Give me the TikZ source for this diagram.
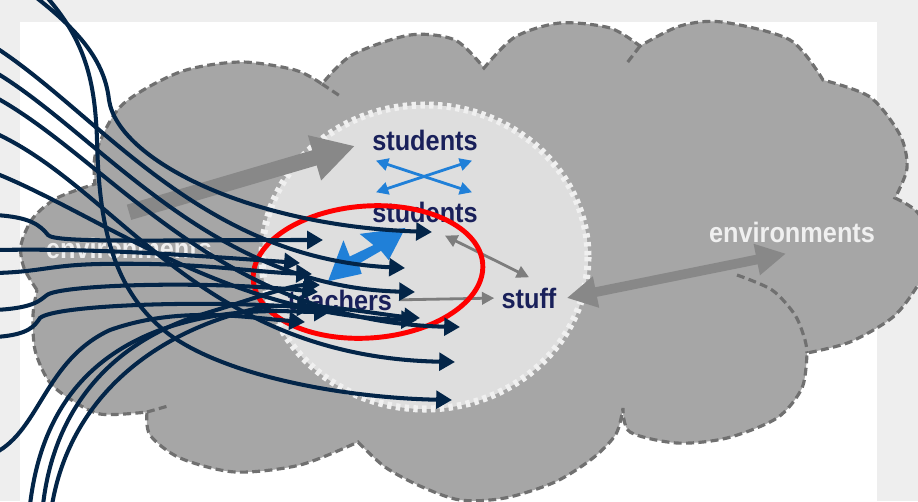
\documentclass[tikz,border=0pt]{standalone}
\usepackage{fontspec}
\setmainfont{Liberation Sans}
\newfontfamily\slidefont[FakeStretch=0.9]{Liberation Sans}
\usepackage{xcolor}
\usepackage{tikz}
\usetikzlibrary{
  arrows.meta,
  calc
}
\definecolor{framegray}{RGB}{238, 238, 238}
\definecolor{cloudgray}{RGB}{166, 166, 166}
\definecolor{clouddash}{RGB}{112, 112, 112}
\definecolor{innergray}{RGB}{222, 222, 222}
\definecolor{inneredge}{RGB}{240, 240, 240}
\definecolor{arrowgray}{RGB}{136, 136, 136}
\definecolor{thingray}{RGB}{125, 125, 125}
\definecolor{labelnavy}{RGB}{25, 32, 90}
\definecolor{linkblue}{RGB}{32, 128, 216}
\definecolor{inknavy}{RGB}{3, 37, 72}
\definecolor{ringred}{RGB}{255, 0, 0}
\tikzset{
  word/.style = {
    font=\slidefont\fontsize{16}{18}\selectfont\bfseries,
    text=labelnavy, inner sep=0pt, anchor=base
  },
  envword/.style = {word, text=white!94!black},
  cloudline/.style = {
    fill=cloudgray, draw=clouddash, line width=1.8pt,
    dash pattern=on 4.5pt off 2.5pt
  },
  seam/.style = {draw=clouddash, line width=1.8pt, dash pattern=on 4.5pt off 2.5pt},
  core/.style = {
    fill=innergray, draw=inneredge, line width=4pt,
    dash pattern=on 2.5pt off 2.5pt
  },
  bigarr/.style  = {-{Triangle[length=24pt,width=25pt]}, draw=arrowgray, line width=9pt},
  envarr/.style  = {{Triangle[length=17pt,width=17pt]}-{Triangle[length=17pt,width=17pt]},
                    draw=arrowgray, line width=5.5pt},
  thinarr/.style = {-{Triangle[length=7pt,width=7pt]}, draw=thingray, line width=1.6pt},
  thinboth/.style = {thinarr, {Triangle[length=7pt,width=7pt]}-{Triangle[length=7pt,width=7pt]}},
  bluearr/.style = {{Triangle[length=7pt,width=7pt]}-{Triangle[length=7pt,width=7pt]},
                    draw=linkblue, line width=1.6pt},
  ring/.style = {draw=ringred, line width=2.8pt},
  ink/.style  = {-{Triangle[length=9pt,width=10pt]}, draw=inknavy, line width=2.3pt},
}

\begin{document}
\begin{tikzpicture}[x=0.02cm, y=-0.02cm]

  \useasboundingbox (0,0) rectangle (918,501);
  \clip (0,0) rectangle (918,501);

  %% ── Slide frame ────────────────────────────────────────────────────────
  \fill[framegray] (0,0) rectangle (918,501);
  \fill[white] (20,22) rectangle (877,505);

  %% ── Outer cloud ────────────────────────────────────────────────────────
  \path[cloudline]
    plot[smooth] coordinates {(37,290) (24,268) (21,245) (33,218) (57,198) (95,184)}
    -- plot[smooth] coordinates {(95,184) (96,152) (122,105) (180,72) (240,62) (295,70) (322,84)}
    -- plot[smooth] coordinates {(322,84) (352,55) (410,35) (455,40) (484,68)}
    -- plot[smooth] coordinates {(484,68) (515,37) (560,23) (610,28) (640,46)}
    -- plot[smooth] coordinates {(640,46) (680,26) (722,22) (790,40) (823,80)}
    -- plot[smooth] coordinates {(823,80) (870,97) (900,135) (907,168) (895,198)}
    -- plot[smooth] coordinates {(895,198) (918,213) (935,250) (918,285) (893,317) (850,342) (807,353)}
    -- plot[smooth] coordinates {(807,353) (802,388) (777,418) (727,438) (677,443) (630,432) (623,408)}
    -- plot[smooth] coordinates {(623,408) (616,434) (593,458) (555,482) (505,498) (460,500) (420,486) (385,467) (358,442)}
    -- plot[smooth] coordinates {(358,442) (300,465) (235,472) (180,458) (150,435) (147,412)}
    -- plot[smooth] coordinates {(147,412) (100,414) (67,397) (48,380) (35,350) (33,315) (37,290)}
    -- cycle;

  % seams between the bumps
  \draw[seam] plot[smooth] coordinates {(737,275) (772,290) (795,315) (805,340) (807,353)};
  \draw[seam] (322,84) -- (340,96);
  \draw[seam] (640,46) -- (627,63);
  \draw[seam] (147,412) -- (168,406);

  %% ── Inner cloud ────────────────────────────────────────────────────────
  \path[core] (425,257) ellipse [x radius=163, y radius=152];

  %% ── Labels ─────────────────────────────────────────────────────────────
  \node[word] (studTop) at (425,150) {students};
  \node[word] (studBot) at (425,222) {students};
  \node[word] (teachers) at (340,310) {teachers};
  \node[word] (stuff) at (529,308) {stuff};
  \node[envword] (envR) at (792,242) {environments};
  \node[envword] (envL) at (129,258) {environments};

  %% ── Grey arrows ────────────────────────────────────────────────────────
  \draw[bigarr] ([shift={(0,-25)}]envL.north) -- ([shift={(-17,6)}]studTop.west);
  \draw[envarr] ([shift={(10,0)}]stuff.east) -- ([shift={(-6,11)}]envR.south);
  \draw[thinboth] ([shift={(20,13)}]studBot.south) -- ([shift={(0,-10)}]stuff.north);
  \draw[thinarr, shorten <=4pt, shorten >=4pt] (teachers.east) -- (stuff.west);

  %% ── Blue arrows ────────────────────────────────────────────────────────
  \draw[bluearr] ([shift={(4,10)}]studTop.south west) -- ([shift={(-6,-9)}]studBot.north east);
  \draw[bluearr] ([shift={(4,-9)}]studBot.north west) -- ([shift={(-6,10)}]studTop.south east);

  \coordinate (boltfoot) at ([shift={(-12,-8)}]teachers.north);
  \begin{scope}[shift={(boltfoot)}, rotate=34.6]
    \fill[linkblue] (0,0) -- (36,-25) -- (32,-8) -- (58,-4) -- (53,-21) -- (94,0)
      -- (62,17) -- (61,5) -- (35,3) -- (32,13) -- cycle;
  \end{scope}

  %% ── Red ring ───────────────────────────────────────────────────────────
  \draw[ring, rotate around={4:(368,272)}] (368,272) ellipse [x radius=115, y radius=66];

  %% ── Ink strokes ────────────────────────────────────────────────────────
  \foreach \tip/\tx/\ty in {inkA/432/232, inkB/323/240, inkC/405/268, inkD/300/263,
      inkE/415/292, inkF/318/292, inkG/417/320, inkH/313/308, inkI/460/327,
      inkJ/455/362, inkK/452/400, inkL/312/274, inkM/305/322, inkN/330/312,
      inkO/320/285, inkP/420/318}
    \coordinate (\tip) at (\tx,\ty);

  \draw[ink] (33,-5) .. controls (85,35) and (105,65) .. (109,100)
    .. controls (118,160) and (250,226) .. (inkA);
  \draw[ink] (45,-5) .. controls (85,40) and (95,80) .. (97,140)
    .. controls (99,220) and (110,290) .. (170,335)
    .. controls (230,378) and (350,398) .. (inkK);
  \draw[ink] (-5,47) .. controls (100,115) and (200,258) .. (inkC);
  \draw[ink] (-5,72) .. controls (100,135) and (210,287) .. (inkE);
  \draw[ink] (-5,97) .. controls (110,160) and (220,322) .. (inkI);
  \draw[ink] (-5,133) .. controls (120,190) and (200,357) .. (inkJ);
  \draw[ink] (-5,173) .. controls (100,215) and (230,316) .. (inkG);
  \draw[ink] (-5,215) .. controls (30,217) and (40,225) .. (48,235)
    .. controls (55,243) and (150,240) .. (inkB);
  \draw[ink] (-5,250) .. controls (100,248) and (200,256) .. (inkD);
  \draw[ink] (-5,273) .. controls (40,272) and (50,265) .. (100,264)
    .. controls (200,262) and (250,272) .. (inkL);
  \draw[ink] (-5,310) .. controls (35,308) and (40,300) .. (47,295)
    .. controls (60,285) and (200,280) .. (inkF);
  \draw[ink] (-5,337) .. controls (30,335) and (35,325) .. (40,318)
    .. controls (55,305) and (200,300) .. (inkH);
  \draw[ink] (-5,453) .. controls (40,430) and (45,360) .. (110,330)
    .. controls (180,305) and (250,318) .. (inkM);
  \draw[ink] (30,505) .. controls (40,420) and (80,360) .. (160,330)
    .. controls (230,305) and (290,312) .. (inkN);
  \draw[ink] (43,505) .. controls (55,400) and (120,340) .. (200,315)
    .. controls (250,300) and (290,285) .. (inkO);
  \draw[ink] (52,505) .. controls (70,400) and (150,335) .. (250,310)
    .. controls (300,298) and (380,315) .. (inkP);

\end{tikzpicture}
\end{document}
